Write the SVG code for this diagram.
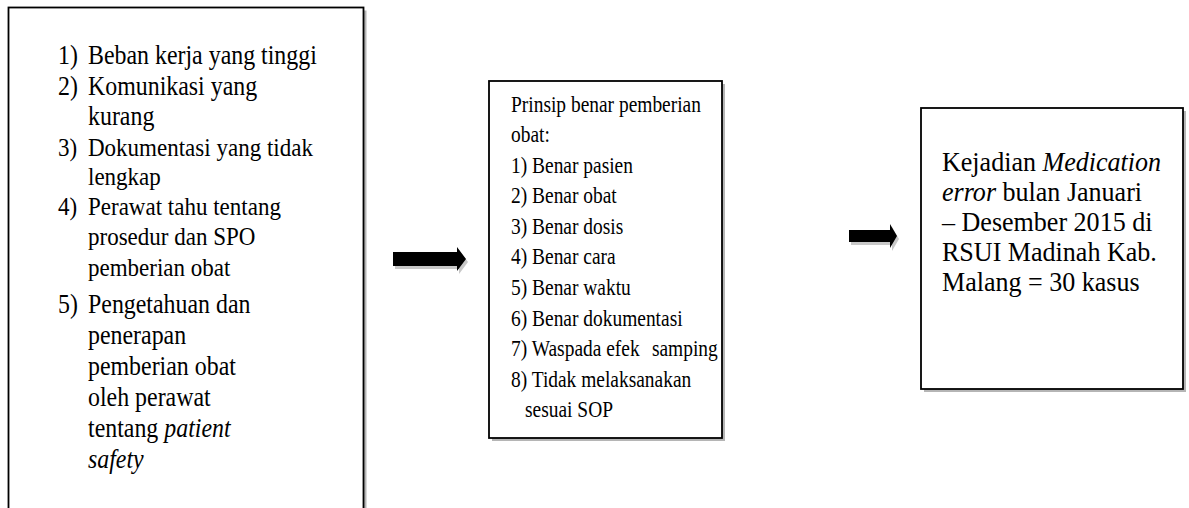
<svg xmlns="http://www.w3.org/2000/svg" width="1189" height="508" viewBox="0 0 1189 508">
<style>
  .box{fill:#ffffff;stroke:#000000;stroke-width:1.8}
  .shadow{fill:#b5b5b5;stroke:none}
  .t{font-family:"Liberation Serif","Times New Roman",serif;fill:#000000}
  .f1{font-size:27px}
  .f1s{font-size:26px}
  .f2{font-size:24px}
  .f3{font-size:27px}
  .arrow{fill:#000000}
  .ashadow{fill:#c8c8c8}
  .i{font-style:italic}
</style>
<rect width="1189" height="508" fill="#ffffff"/>
<g id="node-factors">
  <rect class="shadow" x="11.5" y="10.5" width="355" height="510"/>
  <rect class="box" x="8.5" y="7.5" width="355" height="510"/>
  <g class="t f1" transform="translate(58 0) scale(0.885 1)">
    <text x="0" y="64">1)</text><text x="33.9" y="64">Beban kerja yang tinggi</text>
    <text x="0" y="95">2)</text><text x="33.9" y="95">Komunikasi yang</text>
    <text x="33.9" y="125">kurang</text>
  </g>
  <g class="t f1s" transform="translate(58 0) scale(0.885 1)">
    <text x="0" y="156">3)</text><text x="33.9" y="156">Dokumentasi yang tidak</text>
    <text x="33.9" y="185">lengkap</text>
    <text x="0" y="215">4)</text><text x="33.9" y="215">Perawat tahu tentang</text>
    <text x="33.9" y="245">prosedur dan SPO</text>
    <text x="33.9" y="276">pemberian obat</text>
  </g>
  <g class="t f1" transform="translate(58 0) scale(0.885 1)">
    <text x="0" y="313">5)</text><text x="33.9" y="313">Pengetahuan dan</text>
    <text x="33.9" y="344">penerapan</text>
    <text x="33.9" y="375">pemberian obat</text>
    <text x="33.9" y="406">oleh perawat</text>
    <text x="33.9" y="437">tentang <tspan class="i">patient</tspan></text>
    <text x="33.9" y="468" class="i">safety</text>
  </g>
</g>
<g id="node-principles">
  <rect class="shadow" x="492" y="84" width="233" height="357"/>
  <rect class="box" x="489" y="81" width="233" height="357"/>
  <g class="t f2" transform="translate(511 0) scale(0.81 1)">
    <text x="0" y="112">Prinsip benar pemberian</text>
    <text x="0" y="142">obat:</text>
    <text x="0" y="173">1) Benar pasien</text>
    <text x="0" y="203">2) Benar obat</text>
    <text x="0" y="234">3) Benar dosis</text>
    <text x="0" y="264">4) Benar cara</text>
    <text x="0" y="295">5) Benar waktu</text>
    <text x="0" y="326">6) Benar dokumentasi</text>
    <text x="0" y="356">7) Waspada efek</text><text x="174" y="356">samping</text>
    <text x="0" y="387">8) Tidak melaksanakan</text>
    <text x="17.3" y="417">sesuai SOP</text>
  </g>
</g>
<g id="node-outcome">
  <rect class="shadow" x="924" y="111" width="262" height="281"/>
  <rect class="box" x="921" y="108" width="262" height="281"/>
  <g class="t f3" transform="translate(942 0) scale(0.965 1)">
    <text x="0" y="171">Kejadian <tspan class="i">Medication</tspan></text>
    <text x="0" y="201"><tspan class="i">error</tspan> bulan Januari</text>
    <text x="0" y="231">– Desember 2015 di</text>
    <text x="0" y="261">RSUI Madinah Kab.</text>
    <text x="0" y="291">Malang = 30 kasus</text>
  </g>
</g>
<g id="connectors">
  <polygon class="ashadow" points="395,255 459,255 459,250 468,262 459,274 459,269 395,269"/>
  <polygon class="arrow" points="393,252 457,252 457,247 466,259 457,271 457,266 393,266"/>
  <polygon class="ashadow" points="851,233 892,233 892,227 899,239 892,251 892,245 851,245"/>
  <polygon class="arrow" points="849,230 890,230 890,224 897,236 890,248 890,242 849,242"/>
</g>
</svg>
